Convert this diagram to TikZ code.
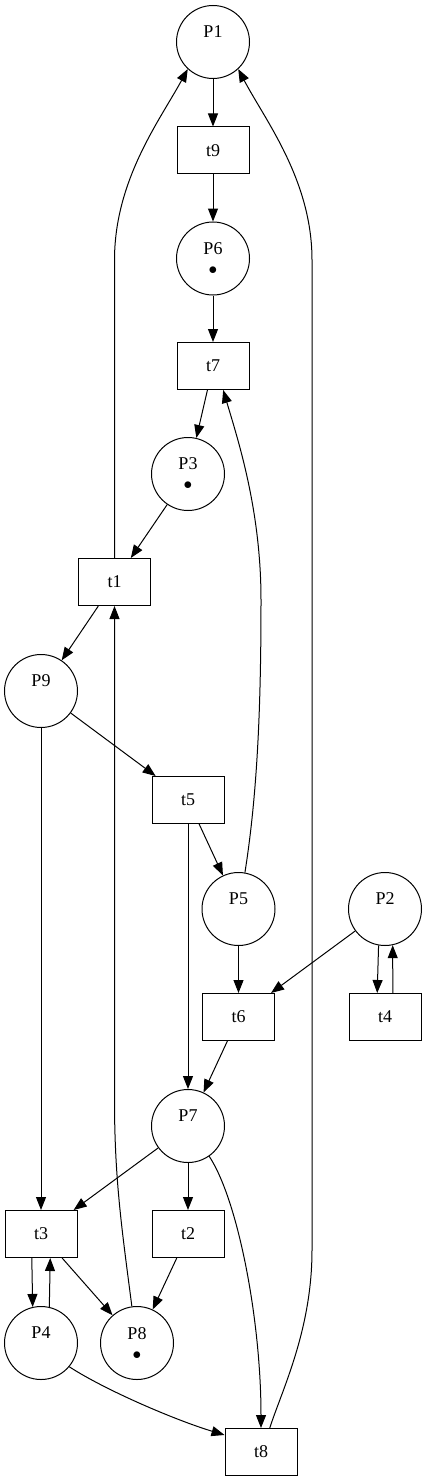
\documentclass[tikz,border=0pt]{standalone}
\usepackage{fontspec}
\setmainfont{Liberation Serif}
\usepackage{tikz}
\usetikzlibrary{arrows.meta}
\tikzstyle{place}=[circle, draw, minimum size=73pt, inner sep=0pt, align=center, font=\fontsize{18}{20}\selectfont]
\tikzstyle{transition}=[rectangle, draw, minimum width=72pt, minimum height=47pt, inner sep=0pt, font=\fontsize{18}{20}\selectfont]
\tikzstyle{flow}=[-{Triangle[length=13pt,width=10pt]}]

\begin{document}
\begin{tikzpicture}[x=1pt, y=-1pt, line width=1pt]
\useasboundingbox (0,0) rectangle (427,1482);

% places
\node[place] (P1) at (213,42)    {P1\\\phantom{$\bullet$}};
\node[place] (P6) at (213,258.5) {P6\\$\bullet$};
\node[place] (P3) at (188,474)   {P3\\$\bullet$};
\node[place] (P9) at (41,691)    {P9\\\phantom{$\bullet$}};
\node[place] (P5) at (238.5,909) {P5\\\phantom{$\bullet$}};
\node[place] (P2) at (385,909)   {P2\\\phantom{$\bullet$}};
\node[place] (P7) at (188,1126)  {P7\\\phantom{$\bullet$}};
\node[place] (P4) at (41,1343)   {P4\\\phantom{$\bullet$}};
\node[place] (P8) at (137,1343)  {P8\\$\bullet$};

% transitions
\node[transition] (t9) at (213,150.5)  {t9};
\node[transition] (t7) at (213,366)    {t7};
\node[transition] (t1) at (114.5,582)  {t1};
\node[transition] (t5) at (188,800)    {t5};
\node[transition] (t6) at (238.5,1017) {t6};
\node[transition] (t4) at (385,1017)   {t4};
\node[transition] (t3) at (41,1234)    {t3};
\node[transition] (t2) at (188,1234)   {t2};
\node[transition] (t8) at (261,1452)   {t8};

% straight arcs
\draw[flow] (P1) -- (t9);
\draw[flow] (t9) -- (P6);
\draw[flow] (P6) -- (t7);
\draw[flow] (t7) -- (P3);
\draw[flow] (P3) -- (t1);
\draw[flow] (t1) -- (P9);
\draw[flow] (P9) -- (t5);
\draw[flow] (P9) -- (t3);
\draw[flow] (t5) -- (P5);
\draw[flow] (t5) -- (P7);
\draw[flow] (P5) -- (t6);
\draw[flow] (P2) -- (t6);
\draw[flow] (t6) -- (P7);
\draw[flow] (P7) -- (t3);
\draw[flow] (P7) -- (t2);
\draw[flow] (t3) -- (P8);
\draw[flow] (t2) -- (P8);
\draw[flow] (P2.-100) -- (t4.108);
\draw[flow] (t4.72) -- (P2.-78);
\draw[flow] (t3.-111) -- (P4.103);
\draw[flow] (P4.77) -- (t3.-69);

% curved arcs
\draw[flow] (t1.north) -- (114.5,260) .. controls (114.5,180) and (160,120) .. (P1.227);
\draw[flow] (t8.70) .. controls (282,1390) and (312,1330) .. (312,1250) -- (312,260)
  .. controls (312,180) and (265,120) .. (P1.313);
\draw[flow] (P5.80) .. controls (258,790) and (261,700) .. (261,600)
  .. controls (261,510) and (238,440) .. (t7.-67);
\draw[flow] (P8.98) .. controls (122,1230) and (114.5,1180) .. (114.5,1100) -- (t1.south);
\draw[flow] (P7.-55) .. controls (238,1200) and (261,1320) .. (t8.north);
\draw[flow] (P4.-40) .. controls (105,1390) and (175,1420) .. (t8.155);
\end{tikzpicture}
\end{document}
